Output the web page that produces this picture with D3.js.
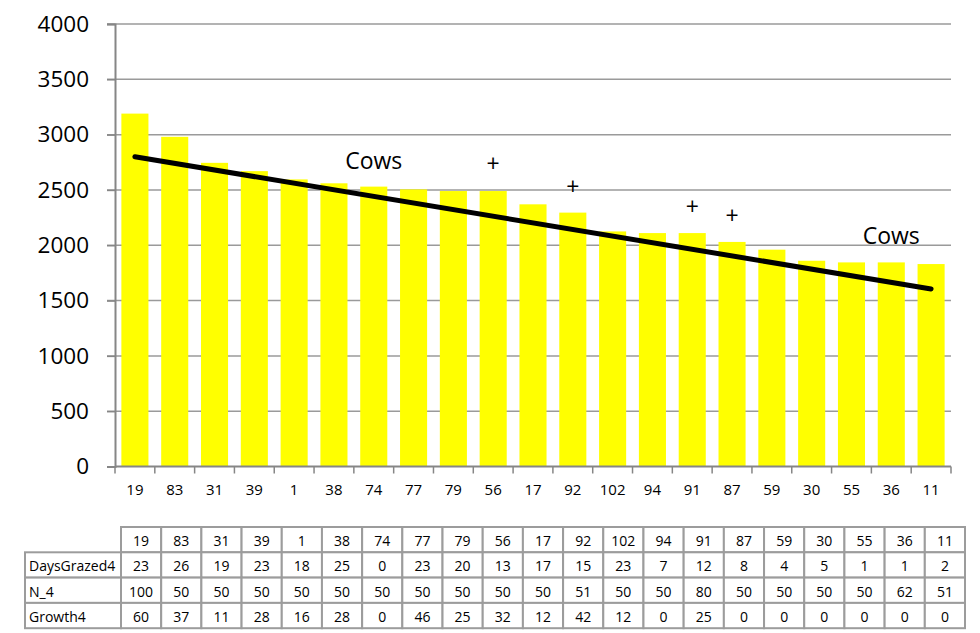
<!DOCTYPE html>
<html>
<head>
<meta charset="utf-8">
<script src="https://cdn.jsdelivr.net/npm/d3@7"></script>
<style>
  body { margin: 0; background: #fff; }
  text { font-family: "Open Sans", "Liberation Sans", sans-serif; fill: #000; }
</style>
</head>
<body>
<div class="canvas"></div>
<script>
// paddock ids, sorted by cover
const paddocks = ['19','83','31','39','1','38','74','77','79','56','17','92','102','94','91','87','59','30','55','36','11']
const cover = [3190,2980,2745,2670,2595,2560,2530,2505,2490,2490,2370,2295,2125,2110,2110,2030,1960,1860,1845,1845,1830]

// linear trend end points (first and last paddock)
const trendEnds = [2800, 1605]

// text marks placed on the chart
const plusCats = ['56','92','91','87']
const plusVals = [2740,2533,2352,2270]
const cowCats = ['74','36']
const cowVals = [2775,2090]

// table under the chart
const rowNames = ['DaysGrazed4','N_4','Growth4']
const daysGrazed = [23,26,19,23,18,25,0,23,20,13,17,15,23,7,12,8,4,5,1,1,2]
const n4 = [100,50,50,50,50,50,50,50,50,50,50,51,50,50,80,50,50,50,50,62,51]
const growth = [60,37,11,28,16,28,0,46,25,32,12,42,12,0,25,0,0,0,0,0,0]
const yTicks = [0,500,1000,1500,2000,2500,3000,3500,4000]

const dims = { width: 980, height: 633 }
const plot = { left: 115, right: 951, top: 24, bottom: 466.5 }

const svg = d3.select('.canvas')
    .append('svg')
    .attr('width', dims.width)
    .attr('height', dims.height)

const x = d3.scaleBand()
    .domain(paddocks)
    .range([plot.left, plot.right])
    .paddingInner(0.32)
    .paddingOuter(0.16)

const y = d3.scaleLinear()
    .domain([0, 4000])
    .range([plot.bottom, plot.top])

// gridlines
svg.append('g')
    .selectAll('line')
    .data(yTicks.filter(d => d > 0))
    .enter().append('line')
        .attr('x1', plot.left - 8)
        .attr('x2', plot.right)
        .attr('y1', d => y(d))
        .attr('y2', d => y(d))
        .attr('stroke', '#9a9a9a')
        .attr('stroke-width', 1.5)

// bars
svg.append('g')
    .selectAll('rect')
    .data(cover)
    .enter().append('rect')
        .attr('x', (d, i) => x(paddocks[i]))
        .attr('y', d => y(d))
        .attr('width', x.bandwidth())
        .attr('height', d => y(0) - y(d))
        .attr('fill', '#ffff00')

// y axis
const yAxis = d3.axisLeft(y)
    .tickValues(yTicks)
    .tickFormat(d3.format('d'))
    .tickSize(8)
    .tickPadding(18)
const yG = svg.append('g')
    .attr('transform', `translate(${plot.left},0)`)
    .call(yAxis)
yG.select('.domain').attr('stroke', '#868686').attr('stroke-width', 2)
yG.selectAll('.tick line').attr('stroke', '#868686').attr('stroke-width', 1.5)
yG.selectAll('.tick text')
    .attr('font-size', 22.5)
    .attr('font-family', '"Open Sans", sans-serif')
    .attr('fill', '#000')

// x axis with ticks between categories
const xG = svg.append('g')
    .attr('transform', `translate(0,${y(0)})`)
xG.append('line')
    .attr('x1', plot.left).attr('x2', plot.right)
    .attr('stroke', '#868686').attr('stroke-width', 2)
xG.selectAll('.tk')
    .data(d3.range(paddocks.length + 1))
    .enter().append('line')
        .attr('x1', i => plot.left + i * (plot.right - plot.left) / paddocks.length)
        .attr('x2', i => plot.left + i * (plot.right - plot.left) / paddocks.length)
        .attr('y1', 0).attr('y2', 7)
        .attr('stroke', '#868686').attr('stroke-width', 1.5)
xG.selectAll('text')
    .data(paddocks)
    .enter().append('text')
        .attr('x', d => x(d) + x.bandwidth() / 2)
        .attr('y', 22)
        .attr('text-anchor', 'middle')
        .attr('dominant-baseline', 'central')
        .attr('font-size', 15)
        .text(d => d)

// trend line
const cx = d => x(d) + x.bandwidth() / 2
svg.append('line')
    .attr('x1', cx(paddocks[0]))
    .attr('y1', y(trendEnds[0]))
    .attr('x2', cx(paddocks[paddocks.length - 1]))
    .attr('y2', y(trendEnds[1]))
    .attr('stroke', '#000')
    .attr('stroke-width', 5)
    .attr('stroke-linecap', 'round')

// annotations
svg.append('g')
    .selectAll('text')
    .data(plusCats)
    .enter().append('text')
        .attr('x', d => cx(d))
        .attr('y', (d, i) => y(plusVals[i]))
        .attr('text-anchor', 'middle')
        .attr('dominant-baseline', 'central')
        .attr('font-size', 23)
        .text('+')

svg.append('g')
    .selectAll('text')
    .data(cowCats)
    .enter().append('text')
        .attr('x', d => cx(d))
        .attr('y', (d, i) => y(cowVals[i]))
        .attr('text-anchor', 'middle')
        .attr('dominant-baseline', 'central')
        .attr('font-size', 23)
        .text('Cows')

// data table
const tx = d3.scaleBand().domain(paddocks).range([121, 965])
const rowTop = 527, rowH = 25.3, labelLeft = 25
const table = svg.append('g')
const rows = [paddocks, daysGrazed, n4, growth]
const cellStroke = '#9c9c9c'

rows.forEach((vals, r) => {
    const top = rowTop + r * rowH
    table.selectAll(`.c${r}`)
        .data(vals)
        .enter().append('rect')
            .attr('x', (d, i) => tx(paddocks[i]))
            .attr('y', top)
            .attr('width', tx.bandwidth())
            .attr('height', rowH)
            .attr('fill', '#fff')
            .attr('stroke', cellStroke)
            .attr('stroke-width', 2)
    table.selectAll(`.t${r}`)
        .data(vals)
        .enter().append('text')
            .attr('x', (d, i) => tx(paddocks[i]) + tx.bandwidth() / 2)
            .attr('y', top + rowH / 2 + 1)
            .attr('text-anchor', 'middle')
            .attr('dominant-baseline', 'central')
            .attr('font-size', 14)
            .text(d => d)
    if (r > 0) {
        table.append('rect')
            .attr('x', labelLeft).attr('y', top)
            .attr('width', 121 - labelLeft).attr('height', rowH)
            .attr('fill', '#fff')
            .attr('stroke', cellStroke)
            .attr('stroke-width', 2)
        table.append('text')
            .attr('x', labelLeft + 4)
            .attr('y', top + rowH / 2 + 1)
            .attr('dominant-baseline', 'central')
            .attr('font-size', 14)
            .text(rowNames[r - 1])
    }
})
</script>
</body>
</html>
